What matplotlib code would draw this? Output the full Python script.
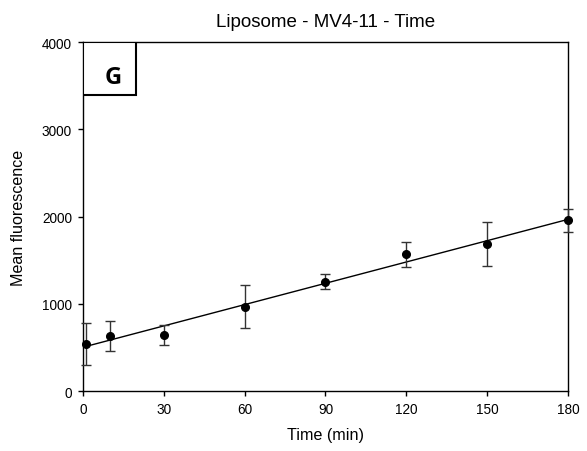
import numpy as np
import matplotlib
matplotlib.use("Agg")
import matplotlib.pyplot as plt
from matplotlib.patches import Rectangle

time_min = [1, 10, 30, 60, 90, 120, 150, 180]
mean_fluor = [540, 630, 640, 965, 1255, 1565, 1685, 1955]
err = [240, 170, 115, 245, 85, 140, 255, 135]
x_ticks = [0, 30, 60, 90, 120, 150, 180]
y_ticks = [0, 1000, 2000, 3000, 4000]

plt.rcParams['font.family'] = ['Liberation Sans', 'DejaVu Sans']

fig = plt.figure(figsize=(5.87, 4.52), dpi=100)
ax = fig.add_axes([0.1414, 0.1327, 0.8262, 0.7721])

slope, intercept = np.polyfit(time_min, mean_fluor, 1)
xl = np.array([time_min[0], time_min[-1]])
ax.plot(xl, slope * xl + intercept, color='black', lw=1.0, zorder=2)

ax.errorbar(time_min, mean_fluor, yerr=err, fmt='o', color='black',
            ecolor='#333333', elinewidth=1.0, capsize=3.6, capthick=1.0,
            markersize=5.5, zorder=3, clip_on=False)

ax.set_xlim(0, 180)
ax.set_ylim(0, 4000)
ax.set_xticks(x_ticks)
ax.set_yticks(y_ticks)
ax.tick_params(direction='out', length=3.5, width=1, labelsize=9.8, pad=4.5,
               top=False, right=False)
for s in ax.spines.values():
    s.set_linewidth(1.0)

ax.set_title('Liposome - MV4-11 - Time', fontsize=13.5, pad=11.5)
ax.set_xlabel('Time (min)', fontsize=11.6, labelpad=8)
ax.set_ylabel('Mean fluorescence', fontsize=11.6, labelpad=11)

# panel label box
box = Rectangle((0.0, 0.848), 0.109, 0.152, transform=ax.transAxes,
                fill=True, facecolor='white', edgecolor='black', lw=1.5, zorder=5)
ax.add_patch(box)
ax.text(0.0619, 0.8825, 'G', transform=ax.transAxes, ha='center', va='baseline',
        fontsize=17, fontweight='bold', family=['Open Sans', 'DejaVu Sans'], zorder=6)

fig.savefig('out.png', dpi=100)
